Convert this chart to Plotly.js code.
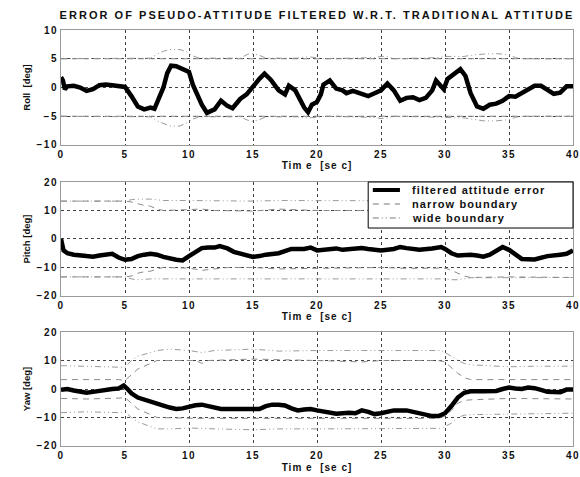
<!DOCTYPE html>
<html>
<head>
<meta charset="utf-8">
<script src="https://cdn.plot.ly/plotly-3.0.1.min.js"></script>
<style>
  html, body { margin: 0; padding: 0; background: #fff; }
  .gtitle { letter-spacing: 2.05px; }
  .xtick text, .ytick text, .x2tick text, .y2tick text, .x3tick text, .y3tick text { letter-spacing: 1.5px; }
  text.xtitle, text.x2title, text.x3title { letter-spacing: 1px; }
  .annotation-text { letter-spacing: 1.1px; }
</style>
</head>
<body>
<div id="chart" style="width:580px;height:477px;"></div>
<script>
// ---------- Roll ----------
const rollT = [0,0.15,0.3,0.5,1,1.5,2,2.5,3,3.5,4,4.5,5,5.5,6,6.5,7,7.3,7.5,8,8.3,8.6,9,9.5,10,10.3,10.6,11,11.4,12,12.5,13,13.4,14,14.5,15,15.5,15.9,16.4,17,17.5,17.8,18.3,19,19.3,19.6,20,20.3,20.5,21,21.5,22,22.3,22.8,23.3,24,24.5,25,25.5,26,26.5,27,27.5,28,28.5,29,29.3,29.6,29.9,30.2,30.7,31.2,31.6,32,32.5,33,33.5,34,34.5,35,35.5,36,36.5,37,37.5,38,38.5,39,39.5,40];
const rollErr = [1.8,1.2,-0.3,0.2,0.3,0,-0.6,-0.3,0.4,0.5,0.4,0.3,0.1,-1.5,-3.3,-3.8,-3.5,-3.7,-2.5,0,2.5,3.8,3.7,3.2,2.7,0.5,-1,-3,-4.4,-3.8,-2.3,-3.2,-3.6,-2,-1.2,0.2,1.5,2.4,1.3,-0.5,-1.2,0.3,-0.5,-3.5,-4.3,-3,-2.5,-1.2,0.5,1.2,-0.2,-0.5,-1,-0.6,-1,-1.5,-1,-0.5,0.7,-0.5,-2.3,-1.8,-1.7,-2.2,-1.8,-0.5,1.2,0.3,-0.3,1.5,2.3,3.2,2,-1,-3.3,-3.7,-3,-2.8,-2.3,-1.5,-1.6,-1,-0.3,0.3,0.3,-0.3,-1.1,-0.9,0.2,0.2];
const rollNarrowT = [0,10,20,30,40];
const rollNarrowUp = [5,5,5,5,5];
const rollNarrowLo = [-5,-5,-5,-5,-5];
const rollWideT = [0,7,7.5,8,8.5,9.3,9.8,10.3,10.8,14,14.6,15,15.5,16,18.5,19,19.5,20,20.5,24.5,25,25.5,26,29.5,30,31.5,32,33,34,35,35.5,36,40];
const rollWideUp = [5,5.1,5.8,6.3,6.6,6.6,6.2,5.5,5.1,5.1,5.8,5.9,5.6,5.1,5.1,5.3,5.3,5.2,5,5.2,5.4,5.4,5,5.2,5.4,5.4,5.6,5.8,5.9,5.7,5.2,5,5];
const rollWideLo = [-5,-5.1,-5.8,-6.3,-6.7,-6.7,-6.2,-5.5,-5.1,-5.1,-5.7,-5.9,-5.6,-5.1,-5.1,-5.3,-5.3,-5.2,-5,-5.2,-5.4,-5.3,-5,-5.1,-5.2,-5.3,-5.5,-5.8,-5.8,-5.6,-5.2,-5,-5];

// ---------- Pitch ----------
const pitchT = [0,0.2,0.5,1,2,2.5,3,3.5,4,4.5,5,5.5,6,6.5,7,7.5,8,9,9.5,10,10.5,11,11.5,12,12.4,13,13.5,14,14.5,15,15.5,16,17,17.5,18,19,19.5,20,21,21.5,22,23,23.5,24,25,26,26.5,27,28,29,29.7,30,30.5,31,32,32.5,33,33.5,34,34.5,35,35.5,36,37,37.5,38,39,39.5,40];
const pitchErr = [0,-4,-5,-5.5,-6,-6.2,-5.8,-5.6,-5.2,-6.5,-7.3,-7,-6,-5.5,-5.2,-5.5,-6.3,-7.3,-7.5,-6,-4.5,-3.2,-3,-3,-2.5,-3.3,-4.5,-5,-5.7,-6.3,-6,-5.5,-5,-4.2,-3.5,-3.5,-3,-4,-3.6,-3.3,-3.8,-3.6,-3.2,-3.5,-4,-3.5,-2.8,-3.2,-3.8,-3.3,-2.8,-3.5,-5,-5.8,-5.5,-5.8,-6.2,-5.5,-4,-2.8,-3.8,-5.5,-7,-7.2,-6.5,-6,-5.5,-5.2,-4];
const pitchNarrowT = [0,5,5.5,6,6.5,7,7.5,8,10,11,12,13,15,17,20,22,25,27,29,30,30.5,31,31.5,32,35,40];
const pitchNarrowUp = [13.3,13.3,13,12.3,11.8,11.5,10.5,10,10.2,10.5,10,10,9.8,10.5,10,10,10,10.2,10.2,10,11.5,12.5,13,13.3,13.3,13.3];
const pitchNarrowLo = [-13.3,-13.3,-13,-12,-11.5,-11.3,-10.5,-10,-10.2,-11,-10.5,-10,-10,-10.5,-10.3,-10.2,-10,-10.3,-10.2,-10.2,-11,-12,-13,-13.5,-13.3,-13.5];
const pitchWideT = [0,5,5.5,6,7,7.5,8,10,15,17,20,25,30,30.5,31,32,40];
const pitchWideUp = [13.3,13.3,13.8,14,14,13.8,13.5,13.5,13.3,13.5,13.5,13.5,13.5,13.5,13.4,13.3,13.3];
const pitchWideLo = [-13.3,-13.3,-14,-14.3,-14,-14,-14,-14,-14.2,-14,-14.2,-14.2,-14,-14.3,-14.3,-13.6,-13.5];

// ---------- Yaw ----------
const yawT = [0,0.5,1,2,2.5,3,3.5,4,4.5,4.9,5.2,5.5,6,6.5,7,7.5,8,8.5,9,9.5,10,10.5,11,11.5,12,12.5,13,14,14.5,15,15.5,16,16.5,17,17.5,18,18.5,19,19.5,20,20.5,21,21.5,22,22.5,23,23.5,24,24.5,25,25.5,26,27,27.5,28,28.5,29,29.5,30,30.5,31,31.5,32,33,34,34.5,35,35.5,36,36.5,37,37.5,38,39,39.5,40];
const yawErr = [-0.3,0,-0.5,-1.3,-1,-0.6,0,0,0.2,1.2,0,-1.5,-3,-3.8,-4.2,-5,-5.8,-6.5,-7,-6.8,-6.2,-5.7,-5.5,-6,-6.5,-7,-7,-7,-6.8,-6.8,-7,-6,-5.5,-5.5,-5.8,-6.8,-7.5,-7.2,-7,-7.5,-8,-8.2,-8.7,-8.5,-8.3,-8.5,-7.5,-8,-8.8,-8.5,-8,-7.5,-7.5,-8,-8.5,-9.2,-9.5,-9.5,-8.5,-6,-3,-1.3,-0.8,-0.8,-0.7,0,0.5,0.2,0,0.5,0.3,-0.3,-1,-1.1,-0.2,-0.2];
const yawNarrowT = [0,2,4.5,5,5.5,6,7,7.5,10.5,11,11.5,15,20,23.5,25,29.5,30,30.5,31,31.5,32,35,40];
const yawNarrowUp = [3.3,3.3,3.3,3,5,7,9,10,10,9,10,10.5,10,9.5,10,10,9.5,7.5,5.5,4,3.3,3.3,3.3];
const yawNarrowLo = [-3.3,-3.5,-3.2,-3,-5,-7,-9,-10,-10.3,-10.3,-10.3,-10.5,-10.3,-10.3,-10.5,-10.3,-9.5,-7.5,-5,-4,-3.8,-3.3,-3.5];
const yawWideT = [0,2,4.5,5,5.5,6,7,7.5,8.5,10,11,12,15,17,20,25,28,29.7,30.5,31,31.5,32,35,37,40];
const yawWideUp = [8.2,8,7.5,7.6,10,11.5,12.8,13.5,14,13.5,12.8,13.5,14,13.3,13.5,13.5,13.7,13.5,11.5,10,9,8.5,7.8,8,8];
const yawWideLo = [-8.3,-8,-8.3,-8,-10,-11.5,-13.2,-14,-14,-13.7,-13.8,-14,-14.3,-14,-14,-14,-14,-13.8,-12,-10,-9.2,-9,-8.8,-8.7,-8.5];

// ---------- Labels ----------
const chartTitle = 'ERROR OF PSEUDO-ATTITUDE FILTERED W.R.T. TRADITIONAL ATTITUDE';
const xLabel = 'Tim e  [se c]';
const yLabels = ['Roll  [deg]', 'Pitch [deg]', 'Yaw [deg]'];
const legendNames = ['filtered attitude error', 'narrow boundary', 'wide boundary'];

const errStyle = {color: '#000', width: 4.5};
const narrowStyle = {color: '#8a8a8a', width: 1, dash: '6px,5px'};
const wideStyle = {color: '#9a9a9a', width: 1, dash: '6px,3px,1px,3px,1px,3px'};
const legendStyles = [errStyle, narrowStyle, wideStyle];

const panels = [
  {t: rollT, e: rollErr, nT: rollNarrowT, nU: rollNarrowUp, nL: rollNarrowLo, wT: rollWideT, wU: rollWideUp, wL: rollWideLo, xa: 'x', ya: 'y'},
  {t: pitchT, e: pitchErr, nT: pitchNarrowT, nU: pitchNarrowUp, nL: pitchNarrowLo, wT: pitchWideT, wU: pitchWideUp, wL: pitchWideLo, xa: 'x2', ya: 'y2'},
  {t: yawT, e: yawErr, nT: yawNarrowT, nU: yawNarrowUp, nL: yawNarrowLo, wT: yawWideT, wU: yawWideUp, wL: yawWideLo, xa: 'x3', ya: 'y3'}
];

const traces = [];
panels.forEach((p) => {
  traces.push({x: p.wT, y: p.wU, xaxis: p.xa, yaxis: p.ya, mode: 'lines', line: wideStyle, name: legendNames[2], showlegend: false, hoverinfo: 'skip'});
  traces.push({x: p.wT, y: p.wL, xaxis: p.xa, yaxis: p.ya, mode: 'lines', line: wideStyle, name: legendNames[2], showlegend: false, hoverinfo: 'skip'});
  traces.push({x: p.nT, y: p.nU, xaxis: p.xa, yaxis: p.ya, mode: 'lines', line: narrowStyle, name: legendNames[1], showlegend: false, hoverinfo: 'skip'});
  traces.push({x: p.nT, y: p.nL, xaxis: p.xa, yaxis: p.ya, mode: 'lines', line: narrowStyle, name: legendNames[1], showlegend: false, hoverinfo: 'skip'});
  traces.push({x: p.t, y: p.e, xaxis: p.xa, yaxis: p.ya, mode: 'lines', line: errStyle, name: legendNames[0], showlegend: false, hoverinfo: 'skip'});
});

const fam = 'Arial, Liberation Sans, sans-serif';
const tickFont = {family: fam, size: 10, color: '#111', weight: 'bold'};
const labFont = {family: fam, size: 10, color: '#111', weight: 'bold'};

function xAxis(anchor) {
  return {
    anchor: anchor, range: [0, 40], dtick: 5, tick0: 0, ticks: '',
    showgrid: true, gridcolor: '#444', griddash: 'dot', gridwidth: 1,
    zeroline: false, showline: true, mirror: true, linecolor: '#9a9a9a', linewidth: 1,
    tickfont: tickFont, ticklabeloverflow: 'allow',
    title: {text: xLabel, font: labFont, standoff: 3}
  };
}
function yAxis(anchor, dom, rng, dt, lab) {
  return {
    anchor: anchor, domain: dom, range: rng, dtick: dt, ticks: '',
    showgrid: true, gridcolor: '#444', griddash: 'dot', gridwidth: 1,
    zeroline: false, showline: true, mirror: true, linecolor: '#9a9a9a', linewidth: 1,
    tickfont: tickFont, ticklabeloverflow: 'allow',
    title: {text: lab, font: {family: fam, size: 9.5, color: '#111', weight: 'bold'}, standoff: 4}
  };
}

// ----- legend box (in the pitch panel), drawn as a framed key -----
const legX0 = 0.6, legX1 = 1.0, legY0 = 0.524, legY1 = 0.6346;
const legRowY = [0.6154, 0.5817, 0.5481];
const shapes = [{type: 'rect', xref: 'paper', yref: 'paper', x0: legX0, x1: legX1, y0: legY0, y1: legY1, line: {color: '#000', width: 1}, fillcolor: '#fff', layer: 'above'}];
const annotations = [];
legendNames.forEach((nm, i) => {
  const st = legendStyles[i];
  shapes.push({type: 'line', xref: 'paper', yref: 'paper', x0: 0.609, x1: 0.662, y0: legRowY[i], y1: legRowY[i], line: {color: i === 0 ? '#000' : '#777', width: i === 0 ? 4 : 1, dash: st.dash || 'solid'}, layer: 'above'});
  annotations.push({xref: 'paper', yref: 'paper', x: 0.682, y: legRowY[i], xanchor: 'left', yanchor: 'middle', text: nm, showarrow: false, font: {family: fam, size: 11, color: '#111', weight: 'bold'}});
});

const layout = {
  width: 580, height: 477,
  margin: {l: 61, r: 7, t: 30, b: 31},
  paper_bgcolor: '#fff', plot_bgcolor: '#fff',
  showlegend: false,
  title: {text: chartTitle, font: {family: fam, size: 11, color: '#111', weight: 'bold'}, x: 0.5, xref: 'paper', xanchor: 'center', y: 0.969, yref: 'container', yanchor: 'middle'},
  xaxis: xAxis('y'),
  xaxis2: xAxis('y2'),
  xaxis3: xAxis('y3'),
  yaxis: yAxis('x', [0.7236, 1], [-10, 10], 5, yLabels[0]),
  yaxis2: yAxis('x2', [0.3606, 0.6346], [-20, 20], 10, yLabels[1]),
  yaxis3: yAxis('x3', [0, 0.274], [-20, 20], 10, yLabels[2]),
  shapes: shapes,
  annotations: annotations
};

Plotly.newPlot('chart', traces, layout, {displayModeBar: false, staticPlot: true});
</script>
</body>
</html>
